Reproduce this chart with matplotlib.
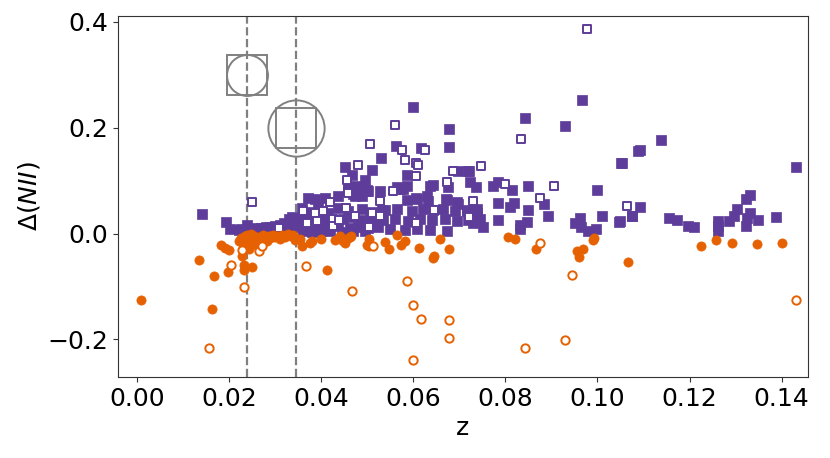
import matplotlib
matplotlib.use("Agg")
import matplotlib.pyplot as plt
import numpy as np

PURPLE = "#5e3c99"
ORANGE = "#e66101"

# purple filled squares (z, dNII)
pur_fill_z = [0.0141,0.0193,0.0202,0.0221,0.0227,0.0240,
  0.0245,0.0250,0.0255,0.0260,0.0265,0.0270,0.0275,0.0280,0.0285,0.0290,0.0295,0.0300,0.0305,0.0310,0.0315,0.0320,0.0325,0.0330,0.0335,0.0338,0.0342,
  0.0252,0.0262,0.0272,0.0282,0.0292,0.0302,0.0312,0.0322,0.0332,
  0.0458,0.0480,0.0499,0.0528,
  0.0386,0.0408,0.0436,0.0473,0.0372,
  0.0358,0.0371,0.0393,0.0415,0.0436,0.0458,0.0488,0.0510,0.0532,
  0.0350,0.0365,0.0382,0.0404,0.0426,0.0447,0.0469,0.0484,0.0506,0.0523,
  0.0354,0.0376,0.0397,0.0415,0.0436,0.0462,0.0480,0.0501,0.0523,
  0.0360,0.0380,0.0400,0.0420,0.0445,0.0470,0.0495,
  0.0564,0.0577,0.0636,0.0675,
  0.0586,0.0608,0.0632,0.0673,0.0695,
  0.0538,0.0564,0.0597,0.0621,0.0643,0.0664,0.0690,0.0716,0.0738,
  0.0534,0.0560,0.0588,0.0614,0.0640,0.0669,0.0695,0.0719,0.0745,
  0.0549,0.0582,0.0608,0.0636,0.0673,
  0.0721,0.0723,0.0736,0.0774,0.0784,0.0814,0.0850,0.0784,0.0810,0.0818,0.0850,0.0893,0.0884,
  0.0716,0.0738,0.0730,0.0752,0.0784,0.0832,0.0832,0.0846,
  0.0951,0.0962,0.0965,0.0980,0.0997,0.1010,0.1046,0.1074,
  0.0967,0.0843,0.0930,0.1088,0.1052,0.0998,0.0600,0.0677,0.0678,0.0562,0.0616,0.0531,
  0.0452,0.0510,0.0468,0.0495,0.0586,0.0587,0.0571,0.0642,
  0.0459,0.0480,0.0499,0.0470,0.0488,0.0502,
  0.0607,0.0630,0.0672,0.0698,0.0698,0.0719,
  0.1137,0.1092,0.1054,0.1431,0.1092,0.1074,0.1049,0.1156,0.1172,0.1196,0.1210,
  0.1262,0.1262,0.1262,0.1285,0.1296,0.1303,0.1322,0.1332,0.1332,0.1325,0.1322,0.1348,0.1387]
pur_fill_y = [0.036,0.021,0.009,0.007,0.008,0.017,
  0.006,0.009,0.007,0.010,0.008,0.011,0.009,0.012,0.010,0.013,0.011,0.014,0.012,0.016,0.013,0.020,0.015,0.027,0.022,0.032,0.012,
  0.003,0.004,0.005,0.006,0.007,0.008,0.009,0.010,0.008,
  0.084,0.087,0.081,0.080,
  0.066,0.068,0.070,0.070,0.068,
  0.048,0.040,0.050,0.038,0.048,0.042,0.046,0.040,0.044,
  0.030,0.025,0.028,0.030,0.024,0.027,0.032,0.025,0.028,0.030,
  0.012,0.015,0.010,0.012,0.014,0.011,0.013,0.010,0.012,
  0.004,0.003,0.005,0.004,0.003,0.005,0.004,
  0.087,0.085,0.090,0.088,
  0.063,0.066,0.062,0.064,0.060,
  0.045,0.047,0.043,0.046,0.044,0.047,0.043,0.045,0.046,
  0.026,0.028,0.024,0.027,0.025,0.028,0.024,0.026,0.027,
  0.008,0.006,0.009,0.007,0.005,
  0.118,0.097,0.087,0.090,0.097,0.083,0.090,0.058,0.051,0.058,0.045,0.033,0.055,
  0.042,0.038,0.020,0.013,0.025,0.017,0.008,0.022,
  0.020,0.030,0.013,0.004,0.008,0.034,0.022,0.034,
  0.253,0.218,0.203,0.156,0.133,0.082,0.240,0.198,0.164,0.166,0.162,0.142,
  0.125,0.120,0.110,0.101,0.110,0.090,0.085,0.091,
  0.089,0.090,0.083,0.074,0.071,0.080,
  0.068,0.071,0.066,0.055,0.118,0.118,
  0.176,0.157,0.133,0.126,0.051,0.034,0.023,0.029,0.025,0.015,0.013,
  0.023,0.014,0.004,0.023,0.033,0.047,0.066,0.072,0.038,0.029,0.015,0.025,0.031]

# purple open squares
pur_open_z = [0.0251,0.0308,0.0361,0.0404,0.0386,0.0425,0.0425,0.0561,0.0507,0.0576,0.0625,0.0582,
  0.0606,0.0611,0.0480,0.0606,0.0457,0.0687,0.0674,0.0556,0.0529,0.0459,0.0473,0.0510,0.0529,
  0.0504,0.0607,0.0645,0.0723,0.0834,0.0747,0.0799,0.0906,0.0875,0.0730,0.0721,0.1065,0.0977,
  0.0370,0.0392,0.0440,0.0455,0.0420]
pur_open_y = [0.059,0.011,0.042,0.042,0.038,0.028,0.014,0.206,0.170,0.158,0.158,0.139,
  0.134,0.129,0.130,0.109,0.101,0.118,0.097,0.080,0.061,0.076,0.034,0.038,0.033,
  0.013,0.019,0.044,0.033,0.178,0.128,0.093,0.090,0.067,0.061,0.031,0.052,0.387,
  0.020,0.024,0.025,0.048,0.060]

# orange filled circles
ora_fill_z = [0.0009,0.0135,0.0167,0.0163,0.0198,0.0182,0.0191,0.0200,0.0229,0.0233,0.0233,0.0251,
  0.0222,0.0226,0.0230,0.0234,0.0238,0.0242,0.0246,0.0250,0.0254,0.0258,0.0262,0.0266,0.0270,0.0274,
  0.0278,0.0282,0.0286,0.0290,0.0295,0.0300,0.0305,0.0310,0.0316,0.0322,0.0328,0.0335,0.0340,0.0344,
  0.0236,0.0244,0.0240,0.0248,0.0256,0.0263,
  0.0358,0.0355,0.0376,0.0381,0.0400,0.0431,0.0442,0.0452,0.0459,0.0466,0.0448,0.0462,0.0413,
  0.0504,0.0505,0.0538,0.0547,0.0565,0.0574,0.0582,0.0613,0.0642,0.0645,0.0658,0.0677,
  0.0806,0.0821,0.0866,0.0956,0.0969,0.0960,0.0992,0.0991,0.1066,
  0.1224,0.1257,0.1292,0.1346,0.1401,0.0499]
ora_fill_y = [-0.125,-0.050,-0.081,-0.142,-0.073,-0.022,-0.027,-0.032,-0.043,-0.059,-0.068,-0.063,
  -0.015,-0.008,-0.020,-0.005,-0.012,-0.018,-0.007,-0.013,-0.004,-0.010,-0.016,-0.006,-0.011,-0.003,
  -0.008,-0.014,-0.005,-0.009,-0.002,-0.007,-0.004,-0.010,-0.003,-0.006,-0.001,-0.005,-0.002,-0.012,
  -0.025,-0.030,-0.002,0.000,-0.020,-0.024,
  -0.024,-0.010,-0.018,-0.014,-0.010,-0.013,-0.005,-0.018,-0.008,-0.005,-0.015,-0.006,-0.069,
  -0.010,-0.023,-0.016,-0.029,-0.002,-0.021,-0.015,-0.027,-0.046,-0.042,-0.011,-0.030,
  -0.007,-0.011,-0.030,-0.033,-0.030,-0.044,-0.008,-0.013,-0.053,
  -0.023,-0.013,-0.018,-0.019,-0.018,-0.021]

# orange open circles
ora_open_z = [0.0156,0.0204,0.0232,0.0228,0.0265,0.0272,0.0368,0.0468,0.0512,0.0586,0.0599,0.0616,
  0.0678,0.0677,0.0600,0.0875,0.0944,0.0842,0.0929,0.1431]
ora_open_y = [-0.216,-0.059,-0.101,-0.032,-0.033,-0.023,-0.062,-0.109,-0.024,-0.089,-0.135,-0.161,
  -0.163,-0.197,-0.239,-0.018,-0.078,-0.217,-0.202,-0.125]

vlines = [0.0239, 0.0345]

fig = plt.figure(figsize=(8.3, 4.58), dpi=100)
ax = fig.add_axes([0.142, 0.177, 0.8315, 0.788])

ax.scatter(pur_fill_z, pur_fill_y, marker='s', s=46, c=PURPLE, edgecolors=PURPLE, linewidths=0.5, zorder=3)
ax.scatter(pur_open_z, pur_open_y, marker='s', s=40, facecolors='white', edgecolors=PURPLE, linewidths=1.4, zorder=3)
ax.scatter(ora_fill_z, ora_fill_y, marker='o', s=44, c=ORANGE, edgecolors=ORANGE, linewidths=0.5, zorder=4)
ax.scatter(ora_open_z, ora_open_y, marker='o', s=36, facecolors='white', edgecolors=ORANGE, linewidths=1.4, zorder=4)

for v in vlines:
    ax.axvline(v, color='gray', ls='--', lw=1.6, zorder=2)

# legend-like glyphs
ax.plot([vlines[0]], [0.30], marker='s', ms=29.5, mfc='none', mec='gray', mew=1.4, zorder=5)
ax.plot([vlines[0]], [0.30], marker='o', ms=29.5, mfc='none', mec='gray', mew=1.4, zorder=5)
ax.plot([vlines[1]], [0.20], marker='o', ms=40.5, mfc='none', mec='gray', mew=1.4, zorder=5)
ax.plot([vlines[1]], [0.20], marker='s', ms=29, mfc='none', mec='gray', mew=1.4, zorder=5)

ax.set_xlim(-0.0041, 0.1457)
ax.set_ylim(-0.271, 0.411)
ax.set_xticks([0.00,0.02,0.04,0.06,0.08,0.10,0.12,0.14])
ax.set_yticks([-0.2,0.0,0.2,0.4])
ax.tick_params(labelsize=18, color='#333333')
for sp in ax.spines.values():
    sp.set_color('#333333')
ax.set_xlabel('z', fontsize=18)
ax.set_ylabel(r'$\Delta(NII)$', fontsize=18)

fig.savefig('out.png', dpi=100)
